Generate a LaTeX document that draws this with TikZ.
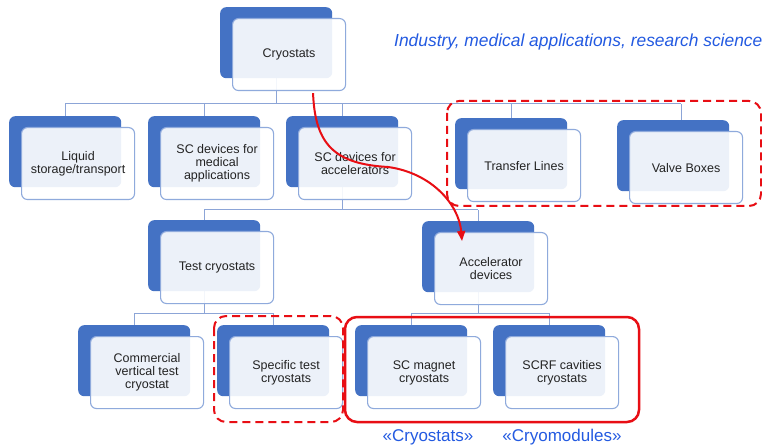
\documentclass[tikz,border=0pt]{standalone}
\usepackage{fontspec}
\setmainfont{Liberation Sans}
\usetikzlibrary{arrows.meta,calc}

\definecolor{backblue}{RGB}{68,114,196}
\definecolor{edgeblue}{RGB}{143,170,220}
\definecolor{linkblue}{RGB}{140,165,215}
\definecolor{boxtext}{RGB}{35,35,35}
\definecolor{notered}{RGB}{232,14,20}
\definecolor{noteblue}{RGB}{35,90,225}

\pgfdeclarelayer{paper}
\pgfdeclarelayer{links}
\pgfsetlayers{paper,links,main}

\tikzset{
  backbox/.style={fill=backblue, draw=none, rounded corners=6pt,
    minimum width=112pt, minimum height=71pt, anchor=north west, inner sep=0pt},
  frontbox/.style={fill=white, fill opacity=0.9, text opacity=1, draw=edgeblue,
    line width=1.1pt, rounded corners=6pt, minimum width=113pt, minimum height=72pt,
    anchor=north west, inner sep=0pt, align=center, text=boxtext,
    font=\fontsize{12.5}{12.9}\selectfont},
  link/.style={draw=linkblue, line width=1pt},
  groupdash/.style={draw=notered, line width=2pt, dash pattern=on 8pt off 5pt, rounded corners=12pt},
  groupsolid/.style={draw=notered, line width=2.5pt, rounded corners=12pt},
  redarrow/.style={draw=notered, line width=2pt, -{Triangle[length=10pt,width=8pt]}},
  note/.style={text=noteblue, font=\fontsize{17}{20}\selectfont, inner sep=0pt},
}

% back tile + front card, placed by the back tile's top-left corner
\newcommand\orgnode[4]{%
  \node[backbox] (#1b) at (#2,#3) {};
  \node[frontbox] (#1f) at (#2+12,#3+11) {#4};
}

\begin{document}
\begin{tikzpicture}[x=1pt,y=-1pt]
\useasboundingbox (0,0) rectangle (762,446);
\begin{pgfonlayer}{paper}
  \fill[white] (0,0) rectangle (762,446);
\end{pgfonlayer}

% tree nodes
\orgnode{cryo}{220}{7}{Cryostats}
\orgnode{liq}{9}{116}{Liquid\\storage/transport}
\orgnode{med}{148}{116}{SC devices for\\medical\\applications}
\orgnode{acc}{286}{116}{SC devices for\\accelerators}
\orgnode{tl}{455}{118}{Transfer Lines}
\orgnode{vb}{617}{120}{Valve Boxes}
\orgnode{test}{148}{220}{Test cryostats}
\orgnode{accdev}{422}{221}{Accelerator\\devices}
\orgnode{com}{78}{325}{Commercial\\vertical test\\cryostat}
\orgnode{spec}{217}{325}{Specific test\\cryostats}
\orgnode{mag}{355}{325}{SC magnet\\cryostats}
\orgnode{scrf}{493}{325}{SCRF cavities\\cryostats}

% bus heights of the tree levels
\coordinate (bus1) at (0,104);
\coordinate (bus2) at (0,210);
\coordinate (bus3) at (0,313);
\coordinate (vbdrop) at ([xshift=8pt]vbb.north);

\begin{pgfonlayer}{links}
  % level 1
  \draw[link] (cryob.south) -- (cryob.south |- bus1);
  \draw[link] (liqb.north |- bus1) -- (vbdrop |- bus1);
  \foreach \n in {liqb,medb,accb,tlb}
    \draw[link] (\n.north) -- (\n.north |- bus1);
  \draw[link] (vbdrop) -- (vbdrop |- bus1);
  % level 2
  \draw[link] (accb.south) -- (accb.south |- bus2);
  \draw[link] (testb.north |- bus2) -- (accdevb.north |- bus2);
  \draw[link] (testb.north) -- (testb.north |- bus2);
  \draw[link] (accdevb.north) -- (accdevb.north |- bus2);
  % level 3
  \draw[link] (testb.south) -- (testb.south |- bus3);
  \draw[link] (comb.north |- bus3) -- (specb.north |- bus3);
  \draw[link] (comb.north) -- (comb.north |- bus3);
  \draw[link] (specb.north) -- (specb.north |- bus3);
  \draw[link] (accdevb.south) -- (accdevb.south |- bus3);
  \draw[link] (magb.north |- bus3) -- (scrfb.north |- bus3);
  \draw[link] (magb.north) -- (magb.north |- bus3);
  \draw[link] (scrfb.north) -- (scrfb.north |- bus3);
\end{pgfonlayer}

% grouping frames
\draw[groupdash] (447,101) rectangle (761,206);
\draw[groupdash] (214,316) rectangle (343,422);
\draw[groupsolid] (345,317) rectangle (639,422);

% red path from the root to the accelerator devices
\coordinate (bend) at (388,167);
\draw[redarrow] ($(cryof.south)+(24,2)$) .. controls (315,145) and (335,164) .. (bend)
  .. controls (432,173) and (459,205) .. ($(accdevf.north west)+(28,9)$);

% annotations
\node[note, anchor=base west, font=\fontsize{17.4}{20}\selectfont\itshape] (scope) at (394,47)
  {Industry, medical applications, research science};
\node[note, anchor=base] (lblcryo) at (428,441) {«Cryostats»};
\node[note, anchor=base] (lblmod) at (562,441) {«Cryomodules»};
\end{tikzpicture}
\end{document}
